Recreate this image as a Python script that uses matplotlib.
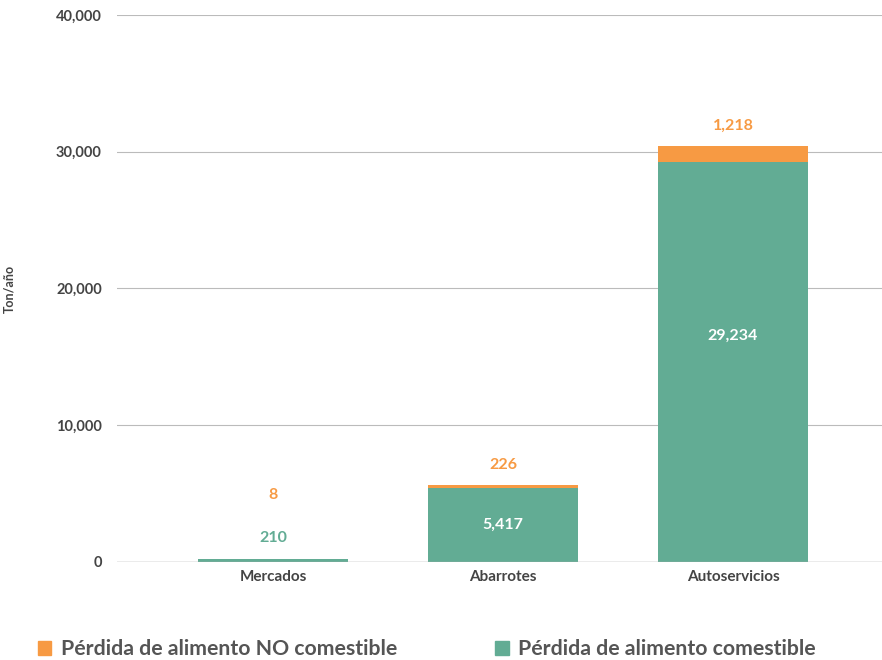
import numpy as np
import matplotlib.pyplot as plt
from matplotlib.patches import Patch

categorias = ['Mercados', 'Abarrotes', 'Autoservicios']
comestible = [210, 5417, 29234]
no_comestible = [8, 226, 1218]
yticks = [0, 10000, 20000, 30000, 40000]

verde = '#62ac94'
naranja = '#f79a43'
gris = '#444444'

plt.rcParams['font.family'] = ['Lato', 'DejaVu Sans']
plt.rcParams['font.weight'] = 'bold'
plt.rcParams['axes.labelweight'] = 'bold'

fig = plt.figure(figsize=(8.82, 6.6), dpi=100)
ax = fig.add_axes([0.1327, 0.1485, 0.8673, 0.8288])

x = np.arange(len(categorias))
ancho = 0.652
ax.bar(x, comestible, ancho, color=verde, zorder=3)
ax.bar(x, no_comestible, ancho, bottom=comestible, color=naranja, zorder=3)

ax.set_xlim(-0.678, 2.648)
ax.set_ylim(0, 40000)
ax.set_yticks(yticks)
ax.set_yticklabels([f'{v:,}' for v in yticks])
ax.set_xticks(x)
ax.set_xticklabels(categorias)
ax.tick_params(axis='both', length=0, labelsize=10.5, labelcolor=gris)
ax.tick_params(axis='y', pad=11)
ax.tick_params(axis='x', labelsize=11, pad=6)
ax.grid(axis='y', color='#bbbbbb', linewidth=0.8, zorder=0)
for s in ax.spines.values():
    s.set_visible(False)
ax.axhline(0, color='#aaaaaa', linewidth=1.0, zorder=4)
ax.set_ylabel('Ton/año', fontsize=9, color=gris, fontweight='bold')
ax.yaxis.set_label_coords(-0.133, 0.5)

# etiquetas de valor
for i, (c, n) in enumerate(zip(comestible, no_comestible)):
    total = c + n
    if c < 2000:
        ax.annotate(f'{c:,}', (i, total), xytext=(0, 10), textcoords='offset points',
                    ha='center', va='bottom', color=verde, fontsize=11.5)
        ax.annotate(f'{n:,}', (i, total), xytext=(0, 41), textcoords='offset points',
                    ha='center', va='bottom', color=naranja, fontsize=11.5)
    else:
        ypos = c / 2 if c < 10000 else c * 0.565
        ax.text(i, ypos, f'{c:,}', ha='center', va='center', color='white', fontsize=11.5)
        ax.annotate(f'{n:,}', (i, total), xytext=(0, 9), textcoords='offset points',
                    ha='center', va='bottom', color=naranja, fontsize=11.5)

handles = [Patch(color=naranja, label='Pérdida de alimento NO comestible'),
           Patch(color=verde, label='Pérdida de alimento comestible')]
leg = fig.legend(handles=handles, loc='lower left', bbox_to_anchor=(0.021, -0.028), ncol=2,
                 frameon=False, fontsize=15.3, handlelength=0.65, handleheight=0.65,
                 handletextpad=0.45, columnspacing=4.6)
for t in leg.get_texts():
    t.set_color('#555555')

fig.savefig('out.png', dpi=100)
